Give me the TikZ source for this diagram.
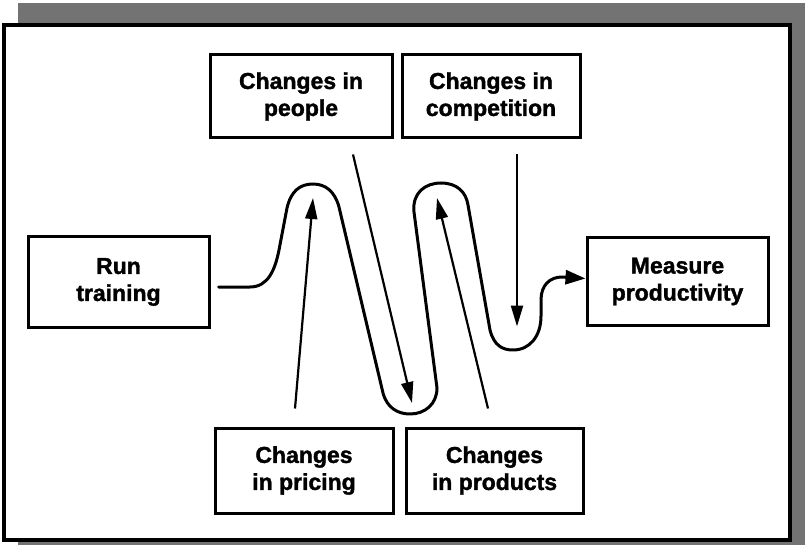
\documentclass[tikz,border=0pt]{standalone}
\usepackage{fontspec}
\setmainfont{Liberation Sans}
\newfontfamily\boxfont{Liberation Sans}[BoldFeatures={FakeBold=1.5}]
\usetikzlibrary{arrows.meta,calc}
\begin{document}
\begin{tikzpicture}[x=1pt,y=-1pt,
  box/.style={draw, line width=3pt, align=center, inner sep=0pt,
    font=\fontsize{23}{27}\selectfont\boxfont\bfseries},
  flow/.style={line width=3pt, line cap=round, line join=round,
    -{Triangle[length=20pt,width=14pt]}},
  push/.style={line width=2.2pt, -{Triangle[length=21pt,width=12pt]}},
]
\useasboundingbox (0,0) rectangle (805,545);
% shadow and frame
\fill[black!55] (18,3) rectangle (805,545);
\draw[line width=3.5pt, fill=white] (4,25) rectangle (790,540);

% boxes
\node[box, minimum width=182pt, minimum height=83pt] (people) at (301,96.5) {Changes in\\people};
\node[box, minimum width=178pt, minimum height=83pt] (comp) at (491,96.5) {Changes in\\competition};
\node[box, minimum width=181pt, minimum height=90pt] (run) at (118.5,282) {Run\\training};
\node[box, minimum width=181pt, minimum height=87pt] (measure) at (677.5,281.5) {Measure\\productivity};
\node[box, minimum width=178pt, minimum height=85pt] (pricing) at (304,470.5) {Changes\\in pricing};
\node[box, minimum width=177pt, minimum height=85pt] (products) at (494.5,470.5) {Changes\\in products};

% free ends of the influence arrows
\coordinate (pricingS) at ($(pricing.north)+(-9,-18)$);
\coordinate (pricingT) at (313,198);
\coordinate (peopleS) at ($(people.south)+(52,15)$);
\coordinate (peopleT) at (412,403);
\coordinate (productsS) at ($(products.north)+(-6.5,-18)$);
\coordinate (productsT) at (437,198);
\coordinate (compS) at ($(comp.south)+(26,15)$);
\coordinate (compT) at ($(comp.south)+(26,187)$);

% main winding path
\draw[flow] ($(run.east)+(8,5)$) -- (250,287)
  .. controls (268,287) and (275,270) .. (279,250)
  -- (287,208)
  .. controls (291,191) and (300,184) .. (313,184)
  .. controls (326,184) and (335,192) .. (339,207)
  -- (383,393)
  .. controls (387,408) and (398,414) .. (410,414)
  .. controls (425,414) and (437,404) .. (437,388)
  -- (414,212)
  .. controls (412,193) and (425,183) .. (441,183)
  .. controls (457,183) and (466,192) .. (468,205)
  -- (490,330)
  .. controls (494,346) and (503,350) .. (513,350)
  .. controls (530,350) and (541,336) .. (541,316)
  -- (541,300)
  .. controls (541,285) and (550,277) .. (562,277)
  -- ($(measure.west)+(0,-3)$);

% influence arrows
\draw[push] (pricingS) -- (pricingT);
\draw[push] (peopleS) -- (peopleT);
\draw[push] (productsS) -- (productsT);
\draw[push] (compS) -- (compT);
\end{tikzpicture}
\end{document}
